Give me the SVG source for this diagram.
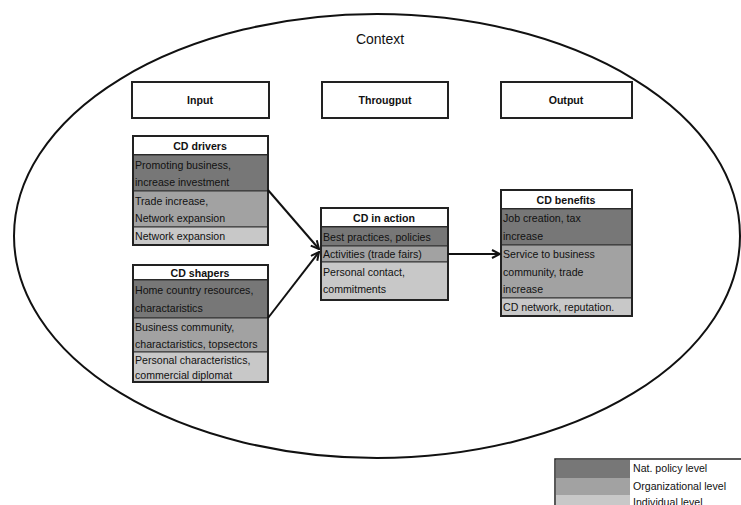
<svg xmlns="http://www.w3.org/2000/svg" width="741" height="505" viewBox="0 0 741 505">
<defs>
<style>
text{font-family:"Liberation Sans",Arial,sans-serif;font-size:10.6px;fill:#111}
.h{font-weight:bold;text-anchor:middle}
.box{fill:#fff;stroke:#222;stroke-width:2}
.d{fill:#777;stroke:#333;stroke-width:1}
.m{fill:#a2a2a2;stroke:#333;stroke-width:1}
.l{fill:#c8c8c8;stroke:#333;stroke-width:1}
.c{fill:none;stroke:#111;stroke-width:2}
</style>
<marker id="ah" viewBox="0 0 10 10" refX="9" refY="5" markerWidth="10" markerHeight="10" orient="auto" markerUnits="userSpaceOnUse">
<path d="M1,1 L9,5 L1,9" fill="none" stroke="#111" stroke-width="2"/>
</marker>
</defs>
<rect width="741" height="505" fill="#fff"/>
<g id="context">
<ellipse cx="377" cy="236" rx="363" ry="222" fill="none" stroke="#111" stroke-width="2"/>
<text x="380" y="44" style="font-size:14px;text-anchor:middle">Context</text>
</g>
<g id="input"><rect class="box" x="132" y="82" width="137" height="36"/><text class="h" x="200" y="104">Input</text></g>
<g id="throughput"><rect class="box" x="322" y="82" width="126" height="36"/><text class="h" x="385" y="104">Througput</text></g>
<g id="output"><rect class="box" x="501" y="82" width="131" height="36"/><text class="h" x="566" y="104">Output</text></g>
<g id="cd-drivers">
<rect x="133" y="136" width="135" height="19" fill="#fff" stroke="#222" stroke-width="2"/>
<text class="h" x="200" y="150">CD drivers</text>
<rect class="d" x="133" y="155" width="135" height="36"/>
<text x="135" y="169">Promoting business,</text><text x="135" y="186">increase investment</text>
<rect class="m" x="133" y="191" width="135" height="36"/>
<text x="135" y="205">Trade increase,</text><text x="135" y="222">Network expansion</text>
<rect class="l" x="133" y="227" width="135" height="18"/>
<text x="135" y="240">Network expansion</text>
<rect x="133" y="136" width="135" height="109" fill="none" stroke="#222" stroke-width="2"/>
</g>
<g id="cd-shapers">
<rect x="133" y="265" width="135" height="15" fill="#fff" stroke="#222" stroke-width="2"/>
<text class="h" x="200" y="277">CD shapers</text>
<rect class="d" x="133" y="280" width="135" height="38"/>
<text x="135" y="294">Home country resources,</text><text x="135" y="312">charactaristics</text>
<rect class="m" x="133" y="318" width="135" height="34"/>
<text x="135" y="331">Business community,</text><text x="135" y="348">charactaristics, topsectors</text>
<rect class="l" x="133" y="352" width="135" height="30"/>
<text x="135" y="364">Personal characteristics,</text><text x="135" y="379">commercial diplomat</text>
<rect x="133" y="265" width="135" height="117" fill="none" stroke="#222" stroke-width="2"/>
</g>
<g id="cd-in-action">
<rect x="321" y="208" width="127" height="19" fill="#fff" stroke="#222" stroke-width="2"/>
<text class="h" x="384" y="222">CD in action</text>
<rect class="d" x="321" y="227" width="127" height="19"/>
<text x="323" y="241">Best practices, policies</text>
<rect class="m" x="321" y="246" width="127" height="16"/>
<text x="323" y="258">Activities (trade fairs)</text>
<rect class="l" x="321" y="262" width="127" height="38"/>
<text x="323" y="276">Personal contact,</text><text x="323" y="293">commitments</text>
<rect x="321" y="208" width="127" height="92" fill="none" stroke="#222" stroke-width="2"/>
</g>
<g id="cd-benefits">
<rect x="501" y="190" width="131" height="19" fill="#fff" stroke="#222" stroke-width="2"/>
<text class="h" x="566" y="204">CD benefits</text>
<rect class="d" x="501" y="209" width="131" height="36"/>
<text x="503" y="222">Job creation, tax</text><text x="503" y="240">increase</text>
<rect class="m" x="501" y="245" width="131" height="53"/>
<text x="503" y="258">Service to business</text><text x="503" y="276">community, trade</text><text x="503" y="293">increase</text>
<rect class="l" x="501" y="298" width="131" height="18"/>
<text x="503" y="311">CD network, reputation.</text>
<rect x="501" y="190" width="131" height="126" fill="none" stroke="#222" stroke-width="2"/>
</g>
<g id="connectors">
<line class="c" x1="268" y1="190" x2="319" y2="249" marker-end="url(#ah)"/>
<line class="c" x1="268" y1="318" x2="319" y2="252" marker-end="url(#ah)"/>
<line class="c" x1="448" y1="254" x2="500" y2="254" marker-end="url(#ah)"/>
</g>
<g id="legend">
<rect x="555" y="459" width="190" height="50" fill="#fff" stroke="#222" stroke-width="1.5"/>
<rect x="556" y="460" width="74" height="18" fill="#777"/>
<rect x="556" y="478" width="74" height="17" fill="#a2a2a2"/>
<rect x="556" y="495" width="74" height="12" fill="#c8c8c8"/>
<text x="633" y="472">Nat. policy level</text>
<text x="633" y="490">Organizational level</text>
<text x="633" y="506">Individual level</text>
</g>
</svg>
